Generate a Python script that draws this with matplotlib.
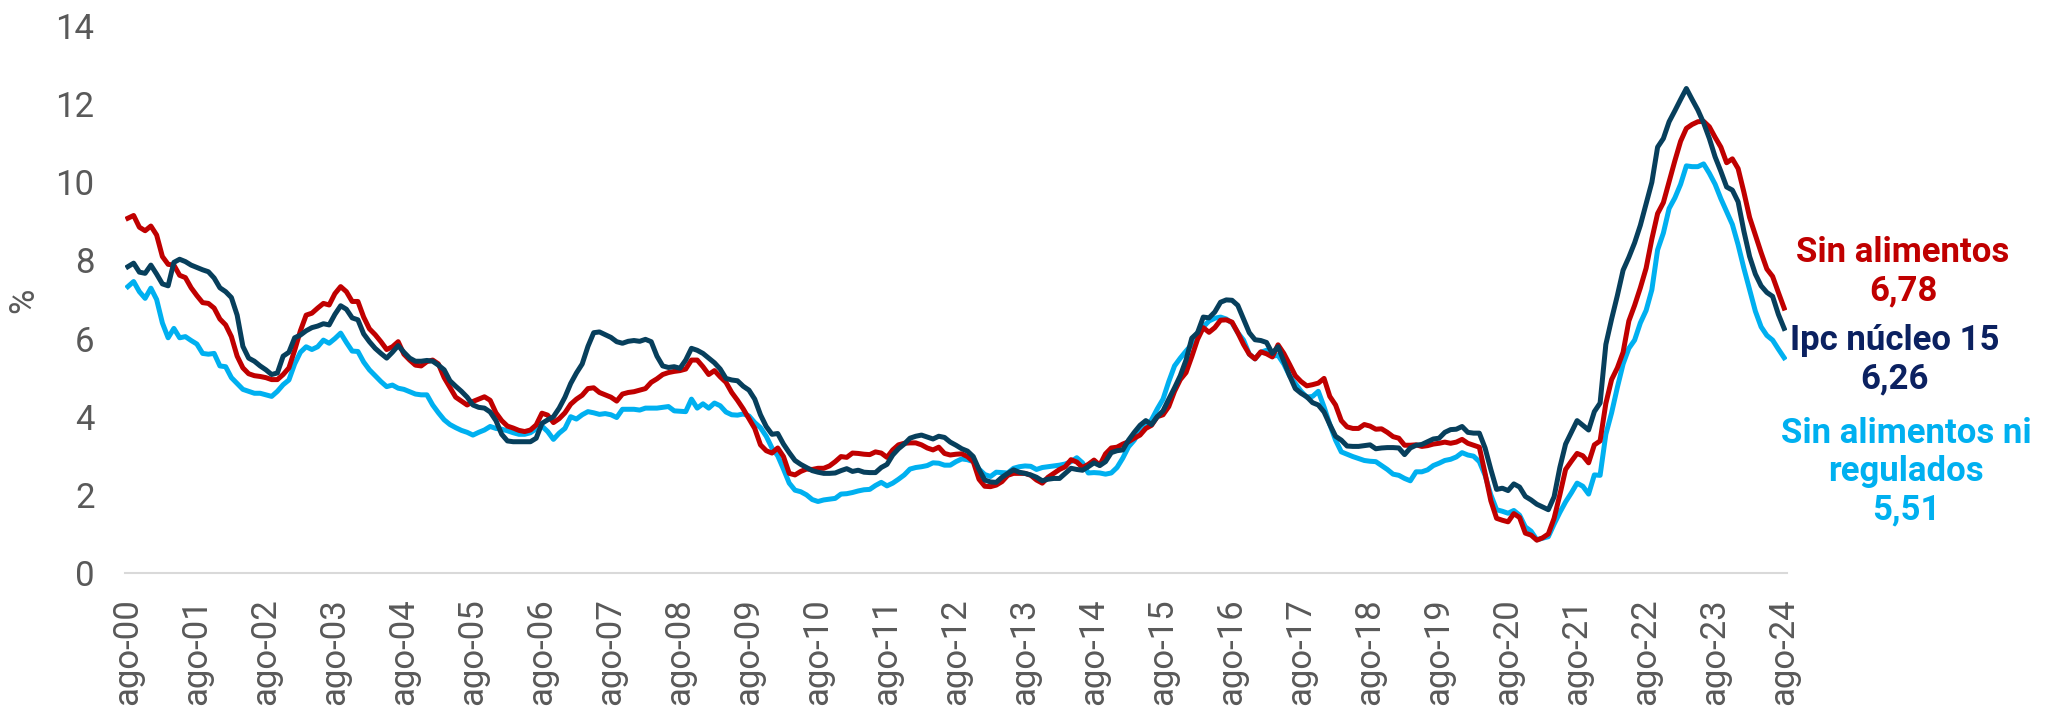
import numpy as np
import matplotlib
matplotlib.use("Agg")
import matplotlib.pyplot as plt

plt.rcParams['font.family'] = ['Roboto', 'DejaVu Sans']

# monthly annual inflation (%), ago-2000 .. ago-2024
sin_alimentos = [
    9.08, 9.15, 8.85, 8.76, 8.88, 8.65, 8.10, 7.90, 7.88, 7.62, 7.56, 7.30,   # 2000-01
    7.10, 6.92, 6.90, 6.78, 6.50, 6.35, 6.05, 5.55, 5.25, 5.10, 5.05, 5.03,
    5.00, 4.95, 4.95, 5.08, 5.25, 5.70, 6.20, 6.60, 6.65, 6.78, 6.90, 6.86,
    7.15, 7.33, 7.20, 6.95, 6.95, 6.55, 6.25, 6.10, 5.92, 5.72, 5.79, 5.92,
    5.60, 5.45, 5.32, 5.30, 5.41, 5.45, 5.35, 5.00, 4.75, 4.50, 4.40, 4.30,
    4.39, 4.45, 4.51, 4.42, 4.10, 3.90, 3.76, 3.71, 3.65, 3.62, 3.66, 3.79,
    4.09, 4.04, 3.85, 3.95, 4.10, 4.32, 4.45, 4.55, 4.72, 4.74, 4.62, 4.56,
    4.50, 4.40, 4.58, 4.62, 4.64, 4.68, 4.72, 4.88, 4.97, 5.08, 5.13, 5.16,
    5.18, 5.22, 5.45, 5.45, 5.28, 5.08, 5.18, 5.02, 4.88, 4.62, 4.42, 4.20,
    3.95, 3.70, 3.28, 3.13, 3.07, 3.20, 2.98, 2.55, 2.51, 2.60, 2.66, 2.65,
    2.68, 2.68, 2.74, 2.85, 2.98, 2.96, 3.07, 3.06, 3.04, 3.03, 3.10, 3.07,
    2.96, 3.15, 3.28, 3.32, 3.33, 3.33, 3.28, 3.20, 3.15, 3.22, 3.06, 3.02,
    3.04, 3.05, 2.98, 2.85, 2.40, 2.22, 2.21, 2.25, 2.34, 2.50, 2.55, 2.55,
    2.55, 2.50, 2.38, 2.30, 2.45, 2.55, 2.65, 2.72, 2.90, 2.84, 2.70, 2.78,
    2.89, 2.76, 3.05, 3.20, 3.22, 3.30, 3.36, 3.45, 3.53, 3.70, 3.78, 4.00,
    4.05, 4.26, 4.65, 4.95, 5.13, 5.54, 5.98, 6.28, 6.16, 6.28, 6.47, 6.48,
    6.42, 6.15, 5.85, 5.60, 5.48, 5.66, 5.61, 5.53, 5.84, 5.62, 5.34, 5.05,
    4.90, 4.79, 4.82, 4.86, 4.98, 4.52, 4.30, 3.90, 3.74, 3.70, 3.70, 3.80,
    3.76, 3.68, 3.69, 3.60, 3.49, 3.45, 3.27, 3.27, 3.28, 3.24, 3.26, 3.30,
    3.32, 3.35, 3.32, 3.35, 3.42, 3.32, 3.27, 3.22, 2.55, 1.85, 1.40, 1.35,
    1.31, 1.52, 1.42, 1.02, 0.97, 0.84, 0.90, 1.00, 1.40, 2.00, 2.65, 2.86,
    3.06, 3.00, 2.82, 3.28, 3.38, 4.34, 4.95, 5.25, 5.65, 6.45, 6.85, 7.30,
    7.80, 8.55, 9.20, 9.48, 10.02, 10.55, 11.05, 11.38, 11.48, 11.55, 11.56, 11.42,
    11.15, 10.90, 10.50, 10.60, 10.35, 9.75, 9.10, 8.65, 8.20, 7.78, 7.59, 7.18,
    6.78,
]

nucleo_15 = [
    7.84, 7.93, 7.70, 7.67, 7.88, 7.65, 7.40, 7.35, 7.95, 8.03, 7.97, 7.88,
    7.82, 7.76, 7.71, 7.55, 7.30, 7.20, 7.05, 6.60, 5.80, 5.50, 5.42, 5.30,
    5.20, 5.08, 5.12, 5.55, 5.65, 6.02, 6.09, 6.20, 6.28, 6.32, 6.38, 6.35,
    6.62, 6.84, 6.75, 6.53, 6.48, 6.12, 5.92, 5.75, 5.62, 5.50, 5.65, 5.82,
    5.65, 5.50, 5.42, 5.42, 5.44, 5.42, 5.32, 5.20, 4.92, 4.78, 4.65, 4.50,
    4.30, 4.24, 4.22, 4.12, 3.90, 3.55, 3.38, 3.36, 3.36, 3.36, 3.36, 3.45,
    3.83, 3.92, 4.00, 4.22, 4.50, 4.85, 5.12, 5.35, 5.80, 6.15, 6.17, 6.10,
    6.03, 5.92, 5.88, 5.93, 5.95, 5.93, 5.98, 5.92, 5.55, 5.30, 5.26, 5.28,
    5.24, 5.45, 5.75, 5.70, 5.62, 5.50, 5.38, 5.22, 4.98, 4.94, 4.92, 4.78,
    4.68, 4.45, 4.05, 3.75, 3.55, 3.57, 3.30, 3.08, 2.88, 2.78, 2.70, 2.62,
    2.58, 2.55, 2.55, 2.56, 2.62, 2.67, 2.60, 2.63, 2.58, 2.57, 2.57, 2.70,
    2.78, 3.02, 3.18, 3.30, 3.45, 3.50, 3.53, 3.48, 3.43, 3.50, 3.47, 3.35,
    3.27, 3.18, 3.12, 2.98, 2.65, 2.38, 2.33, 2.32, 2.45, 2.55, 2.64, 2.58,
    2.55, 2.51, 2.45, 2.36, 2.40, 2.42, 2.42, 2.55, 2.68, 2.65, 2.63, 2.72,
    2.82, 2.75, 2.85, 3.08, 3.13, 3.15, 3.40, 3.60, 3.78, 3.90, 3.80, 4.00,
    4.15, 4.45, 4.74, 5.05, 5.45, 6.01, 6.15, 6.55, 6.53, 6.68, 6.93, 6.99,
    6.98, 6.85, 6.50, 6.15, 5.97, 5.95, 5.90, 5.62, 5.79, 5.42, 5.05, 4.72,
    4.60, 4.51, 4.36, 4.30, 4.12, 3.80, 3.50, 3.40, 3.25, 3.24, 3.24, 3.26,
    3.28, 3.18, 3.20, 3.21, 3.21, 3.20, 3.03, 3.20, 3.27, 3.29, 3.36, 3.43,
    3.45, 3.60, 3.67, 3.68, 3.75, 3.60, 3.58, 3.58, 3.20, 2.65, 2.14, 2.17,
    2.11, 2.28, 2.20, 1.96, 1.87, 1.76, 1.69, 1.62, 1.95, 2.70, 3.30, 3.60,
    3.90, 3.78, 3.66, 4.13, 4.35, 5.85, 6.50, 7.10, 7.75, 8.08, 8.45, 8.90,
    9.45, 10.00, 10.90, 11.12, 11.55, 11.83, 12.12, 12.40, 12.12, 11.85, 11.52, 11.12,
    10.65, 10.28, 9.88, 9.80, 9.50, 8.75, 8.10, 7.65, 7.35, 7.18, 7.08, 6.62,
    6.26,
]

sin_alim_ni_regulados = [
    7.33, 7.46, 7.20, 7.03, 7.29, 7.00, 6.40, 6.02, 6.26, 6.02, 6.05, 5.95,
    5.86, 5.62, 5.60, 5.62, 5.30, 5.28, 5.00, 4.85, 4.70, 4.65, 4.60, 4.60,
    4.56, 4.52, 4.65, 4.82, 4.94, 5.35, 5.65, 5.79, 5.72, 5.79, 5.96, 5.88,
    6.00, 6.14, 5.90, 5.68, 5.67, 5.40, 5.20, 5.05, 4.90, 4.77, 4.81, 4.73,
    4.70, 4.64, 4.58, 4.56, 4.56, 4.30, 4.10, 3.92, 3.80, 3.72, 3.65, 3.60,
    3.53, 3.60, 3.66, 3.75, 3.70, 3.68, 3.64, 3.59, 3.55, 3.55, 3.59, 3.69,
    3.76, 3.62, 3.42, 3.58, 3.70, 4.00, 3.94, 4.05, 4.13, 4.10, 4.06, 4.08,
    4.05, 3.98, 4.19, 4.19, 4.19, 4.17, 4.22, 4.22, 4.22, 4.24, 4.26, 4.15,
    4.14, 4.13, 4.45, 4.22, 4.33, 4.22, 4.35, 4.28, 4.12, 4.05, 4.04, 4.07,
    4.02, 3.85, 3.72, 3.50, 3.20, 3.00, 2.66, 2.30, 2.12, 2.08, 2.00, 1.88,
    1.83, 1.87, 1.89, 1.91, 2.02, 2.03, 2.06, 2.10, 2.13, 2.14, 2.24, 2.32,
    2.23, 2.30, 2.40, 2.51, 2.66, 2.70, 2.72, 2.75, 2.82, 2.81, 2.76, 2.76,
    2.85, 2.92, 2.90, 2.85, 2.66, 2.52, 2.47, 2.58, 2.57, 2.56, 2.68, 2.72,
    2.74, 2.73, 2.65, 2.70, 2.72, 2.74, 2.76, 2.79, 2.85, 2.95, 2.82, 2.56,
    2.57, 2.56, 2.53, 2.56, 2.70, 2.94, 3.23, 3.40, 3.66, 3.75, 3.92, 4.20,
    4.45, 4.90, 5.30, 5.50, 5.68, 5.85, 6.15, 6.30, 6.45, 6.52, 6.55, 6.50,
    6.40, 6.15, 5.96, 5.60, 5.48, 5.65, 5.70, 5.55, 5.57, 5.35, 5.05, 4.85,
    4.65, 4.50, 4.52, 4.65, 4.25, 3.80, 3.40, 3.10, 3.04, 2.98, 2.93, 2.88,
    2.86, 2.85, 2.75, 2.65, 2.53, 2.50, 2.42, 2.36, 2.59, 2.59, 2.64, 2.75,
    2.81, 2.88, 2.91, 2.97, 3.08, 3.02, 2.99, 2.85, 2.50, 2.00, 1.62, 1.58,
    1.53, 1.60, 1.48, 1.18, 1.07, 0.85, 0.89, 0.93, 1.25, 1.55, 1.82, 2.05,
    2.30, 2.22, 2.02, 2.51, 2.50, 3.55, 4.10, 4.75, 5.35, 5.75, 5.96, 6.40,
    6.72, 7.25, 8.27, 8.70, 9.33, 9.60, 9.95, 10.42, 10.40, 10.40, 10.47, 10.23,
    9.95, 9.58, 9.25, 8.92, 8.40, 7.80, 7.25, 6.70, 6.30, 6.08, 5.96, 5.73,
    5.51,
]

years = list(range(0, 25))
tick_labels = ["ago-%02d" % y for y in years]

RED = "#C00000"
DARK = "#073F5C"
LIGHT = "#00B0F0"
NAVY = "#0B2160"
GREY = "#595959"

months = np.arange(len(sin_alimentos))

fig = plt.figure(figsize=(20.51, 7.07), dpi=100)
ax = fig.add_axes([125 / 2051, 134 / 707, 1662 / 2051, 547 / 707])

ax.plot(months, sin_alim_ni_regulados, color=LIGHT, lw=3.6, solid_joinstyle="round")
ax.plot(months, sin_alimentos, color=RED, lw=3.6, solid_joinstyle="round")
ax.plot(months, nucleo_15, color=DARK, lw=3.6, solid_joinstyle="round")

ax.set_xlim(-0.5, len(months) - 0.5)
ax.set_ylim(0, 14)
ax.set_yticks(range(0, 15, 2))
ax.set_xticks([12 * y for y in years])
ax.set_xticklabels(tick_labels, rotation=90)

for s in ["top", "right", "left"]:
    ax.spines[s].set_visible(False)
ax.spines["bottom"].set_color("#D9D9D9")
ax.spines["bottom"].set_linewidth(1.5)
ax.tick_params(axis="both", length=0, labelsize=25, colors=GREY)
ax.tick_params(axis="y", pad=22)
ax.tick_params(axis="x", pad=18)

fig.text(24 / 2051, 1 - 300 / 707, "%", rotation=90, fontsize=25,
         color=GREY, ha="center", va="center")

def fmt(v):
    return ("%.2f" % v).replace(".", ",")

lx = 1903 / 2051
fig.text(lx, 1 - 272 / 707, "Sin alimentos\n" + fmt(sin_alimentos[-1]),
         color=RED, fontsize=25, fontweight="bold", ha="center", va="center",
         linespacing=1.2)
fig.text(lx - 8 / 2051, 1 - 360 / 707, "Ipc núcleo 15\n" + fmt(nucleo_15[-1]),
         color=NAVY, fontsize=25, fontweight="bold", ha="center", va="center",
         linespacing=1.2)
fig.text(lx + 3 / 2051, 1 - 472 / 707,
         "Sin alimentos ni\nregulados\n" + fmt(sin_alim_ni_regulados[-1]),
         color=LIGHT, fontsize=25, fontweight="bold", ha="center", va="center",
         linespacing=1.2)

fig.savefig("out.png", dpi=100)
